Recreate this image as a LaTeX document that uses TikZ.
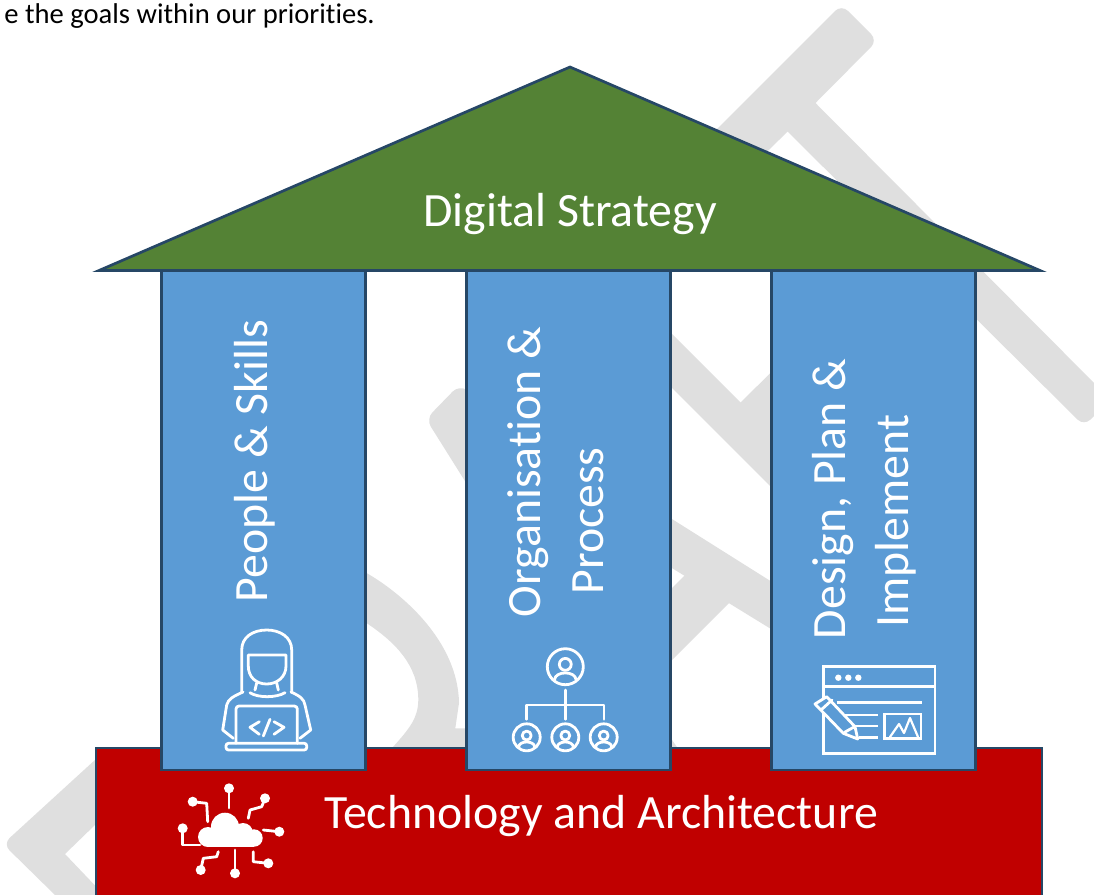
\documentclass[tikz,border=0pt]{standalone}
\usepackage{fontspec}
\setmainfont{Carlito}[Ligatures=CommonOff]
\usepackage{tikz}
\usetikzlibrary{positioning}
\definecolor{outlineblue}{HTML}{264766}
\definecolor{pillarblue}{HTML}{5B9BD5}
\definecolor{roofgreen}{HTML}{548235}
\definecolor{basered}{HTML}{C00000}
\definecolor{draftgrey}{HTML}{DFDFDF}
\tikzstyle{draftmark}=[fill=draftgrey, draw=none]
\tikzstyle{pillar}=[rectangle, draw=outlineblue, fill=pillarblue, line width=2.7pt, minimum width=204pt, minimum height=499pt, inner sep=0pt, outer sep=0pt]
\tikzstyle{bigText}=[text=white, font=\fontsize{47.8}{63}\selectfont, inner sep=0pt]
\tikzstyle{pillarText}=[bigText, rotate=90, align=center]
\tikzstyle{icon}=[draw=white, line width=2.8pt, line cap=round, line join=round]
\newcommand{\orgperson}[3]{
    \begin{scope}[shift={(#1,#2)}, scale=#3]
        \draw[icon] (0,0) circle (1);
        \draw[icon] (0,-.13) circle (.33);
        \draw[icon] (-.6,.72) .. controls (-.55,.22) and (.55,.22) .. (.6,.72);
    \end{scope}
}
\newcommand{\cloudray}[2]{
    \draw[icon] #2;
    \fill[white] #1 circle (5);
}
\begin{document}
\begin{tikzpicture}[x=1pt, y=-1pt]
    \useasboundingbox (0,0) rectangle (1094,894);

    % watermark
    \fill[draftmark] (96,759) [rounded corners=9pt] -- (3,844) [sharp corners] -- (56,896) -- (105,896) -- (65,854) -- (96,824) -- (110,790) -- cycle;
    \fill[draftmark] (350,565) -- (366,572.7) .. controls (400,592) and (458,640) .. (459,703) -- (455.3,728.3) -- (480,728.3) -- (480,760) -- (380,760) -- (392.7,747.3) .. controls (410,728) and (418,718) .. (418.3,700) .. controls (418.3,665) and (395,642) .. (366,622.7) -- (350,610) -- cycle;
    \fill[draftmark] (680.5,824.5) [rounded corners=9pt] -- (426,419) -- (459,385) [sharp corners] -- (865,640.5) -- (836,669) -- (480,450) -- (475,450) -- (709.5,795) -- cycle;
    \fill[draftmark] (610,650) -- (700,560) -- (750,582) -- (635,697) -- cycle;
    \fill[draftmark] (592,254) -- (670,176) -- (706,212) -- (628,290) -- (921.5,583.5) -- (894.5,610.5) -- (565,281) -- cycle;
    \fill[draftmark] (740.3,402.7) -- (812,332) -- (847,367) -- (770,445) -- (740,440) -- (700,400) -- cycle;
    \fill[draftmark] (703,143) [rounded corners=9pt] -- (841.5,4.5) -- (877.5,40.5) [sharp corners] -- (815.5,103) [rounded corners=9pt] -- (1110.5,399.5) -- (1084,426) [sharp corners] -- (787.6,131.6) -- (739,179) -- cycle;

    \node(priorities)[anchor=base east, font=\fontsize{28.6}{34}\selectfont, inner sep=0pt] at (375,23.2) {e the goals within our priorities.};

    % building
    \fill[basered] (96,748) rectangle (1042,897);
    \draw[outlineblue, line width=2.7pt] (96,897) -- (96,748) -- (1042,748) -- (1042,897);
    \node(pillar1)[pillar] at (263.5,520.5) {};
    \node(pillar2)[pillar, right=101pt of pillar1] {};
    \node(pillar3)[pillar, right=101pt of pillar2] {};
    \draw[fill=roofgreen, draw=outlineblue, line width=2.7pt, miter limit=10] (99,270.5) -- (570,67) -- (1040,270.5) -- cycle;

    \node(strategy)[bigText, anchor=base] at (570,226) {Digital Strategy};
    \node(technology)[bigText, anchor=base] at (601,828) {Technology and Architecture};
    \node(people)[pillarText, anchor=base] at (267,461) {People \& Skills};
    \node(organisation)[pillarText] at (556,472) {Organisation \&\\Process\hspace*{98pt}};
    \node(design)[pillarText] at (864.5,499) {Design, Plan \&\\Implement\hspace*{44pt}};

    % developer icon
    \draw[icon] (241.7,691.7) -- (241.7,650) .. controls (241.7,637) and (253,630) .. (266.7,630) .. controls (280,630) and (291.7,637) .. (291.7,650) -- (291.7,691.7);
    \draw[icon] (248.3,655) -- (286,655) -- (286,666) .. controls (286,677) and (277,684) .. (266.7,684) .. controls (256,684) and (248.3,677) .. (248.3,666) -- cycle;
    \draw[icon] (256.7,683) -- (255,690);
    \draw[icon] (276.7,683) -- (278.3,690);
    \draw[icon] (250,692.7) .. controls (258,698) and (276,698) .. (285,692.7);
    \draw[icon] (243,692) .. controls (234,696) and (228,699) .. (226.7,705) -- (222.7,730) -- (233.3,738.3);
    \draw[icon] (291,692) .. controls (300,696) and (304,699) .. (305,705) -- (310.7,730) -- (300,738.3);
    \draw[icon, rounded corners=3pt] (236,743.3) -- (236,706) -- (297.3,706) -- (297.3,743.3);
    \draw[icon, rounded corners=2.5pt] (226,743.3) -- (306.7,743.3) -- (306.7,750) -- (226,750) -- cycle;
    \draw[icon] (259.3,721.7) -- (250,727.3) -- (259.3,734.3);
    \draw[icon] (270,719.3) -- (263.3,736);
    \draw[icon] (274,721.7) -- (284,727.3) -- (274,734.3);

    % organisation icon
    \orgperson{565.3}{666.7}{18}
    \foreach \x in {526.7,565.3,603.7}{
        \orgperson{\x}{737.3}{13.5}
    }
    \draw[icon] (565.3,690) -- (565.3,719.3);
    \draw[icon] (526.7,719.3) -- (526.7,705) -- (604,705) -- (604,719.3);

    % design icon
    \draw[icon, line cap=butt, line join=miter] (823.3,666.7) rectangle (935,753.3);
    \draw[icon, line cap=butt] (823.3,686.7) -- (935,686.7);
    \foreach \x in {838.3,848.3,858.3}{
        \fill[white] (\x,677.7) circle (3.2);
    }
    \draw[icon, line cap=butt] (836.7,702.7) -- (921.7,702.7);
    \draw[icon, line cap=butt] (845,715) -- (878.3,715);
    \draw[icon, line cap=butt] (851.7,726) -- (878.3,726);
    \draw[icon, line cap=butt] (859.3,737.3) -- (878.3,737.3);
    \draw[icon, line cap=butt, line join=miter] (884.3,714) rectangle (921,738.3);
    \draw[icon, line width=2.2pt] (890,737) -- (899,724) -- (904,733) -- (910,718) -- (918,737);
    \draw[icon, fill=pillarblue] (826.7,696.7) -- (855,726.7) -- (857.7,739) -- (843.3,733.3) -- (815,704) -- cycle;
    \draw[icon] (821,710) -- (832,700);
    \draw[icon] (845,732) -- (854,727);

    % cloud icon
    \fill[white] (208,837) circle (10);
    \fill[white] (225,826.7) circle (14);
    \fill[white] (243,833) circle (10);
    \fill[white] (254,838) circle (8.7);
    \fill[white] (208,835) rectangle (254,846.7);
    \cloudray{(229,788.3)}{(229,788.3) -- (229,808)}
    \cloudray{(265,798.3)}{(265,798.3) -- (261.7,806.7) -- (250,810) -- (248.3,818.3)}
    \cloudray{(279.3,831.7)}{(279.3,831.7) -- (263.3,830)}
    \cloudray{(268.3,863.3)}{(253.3,851.7) -- (253.3,861.7) -- (268.3,863.3)}
    \cloudray{(235,873.3)}{(235,873.3) -- (235,850)}
    \cloudray{(200.7,870)}{(200.7,870) -- (203.3,858.3) -- (216.7,856.7) -- (218.3,851.7)}
    \cloudray{(182.7,828.3)}{(182.7,828.3) -- (182.7,845) -- (200,845)}
    \cloudray{(192.7,801.7)}{(192.7,801.7) -- (206.7,803.3) -- (207.7,821.7)}
\end{tikzpicture}
\end{document}
